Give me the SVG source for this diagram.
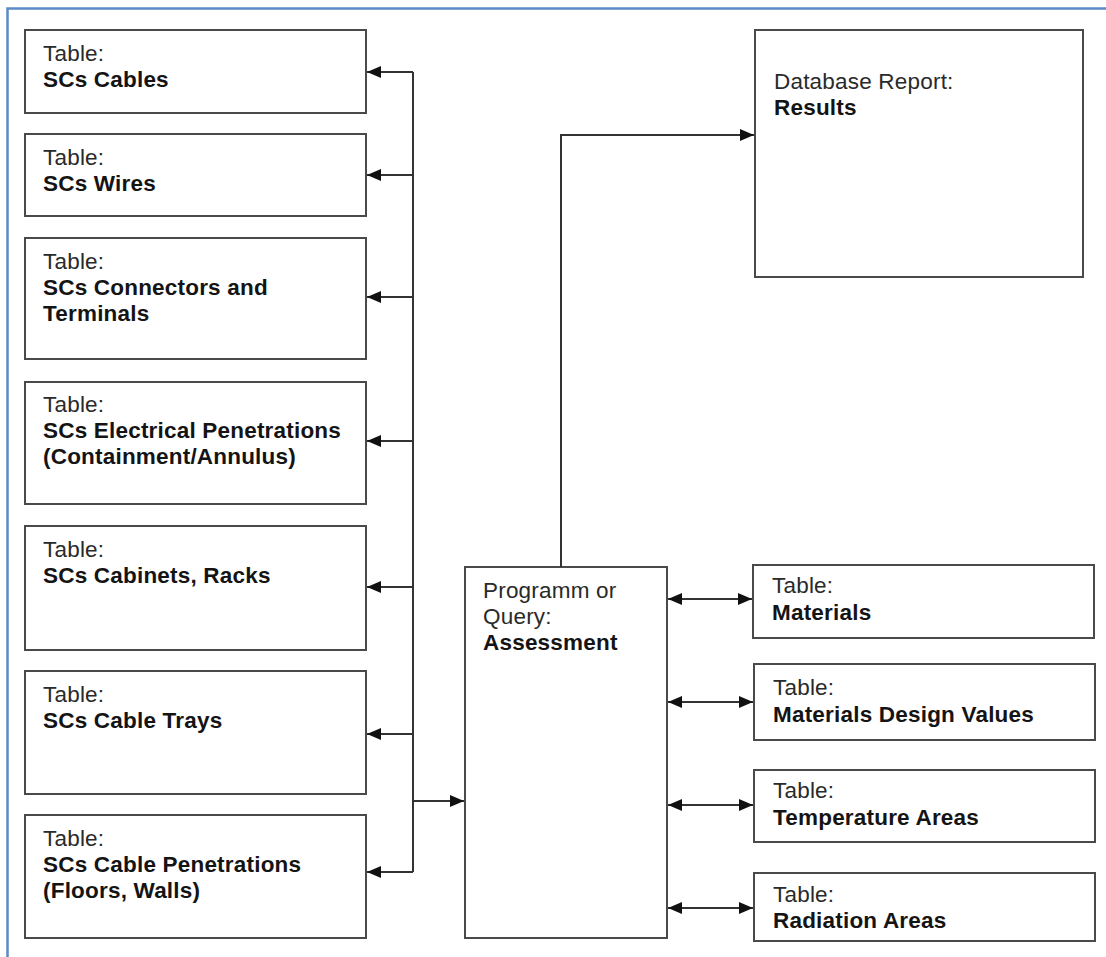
<svg xmlns="http://www.w3.org/2000/svg" width="1106" height="957" viewBox="0 0 1106 957">
  <style>
    .box { fill: #ffffff; stroke: #4a4a4a; stroke-width: 2; }
    .lbl { font-family: "Liberation Sans", Arial, sans-serif; font-size: 22.5px; letter-spacing: 0.2px; fill: #2a2a2a; }
    .lbl .b { font-weight: bold; fill: #141414; }
    .wire { fill: none; stroke: #333333; stroke-width: 2; }
    .frame { fill: none; stroke: #5b8ac6; stroke-width: 2.5; }
  </style>
  <defs>
    <marker id="arrow" viewBox="0 0 14 12" refX="14" refY="6" markerWidth="14" markerHeight="12" markerUnits="userSpaceOnUse" orient="auto-start-reverse">
      <path d="M0,0 L14,6 L0,12 Z" fill="#111111"/>
    </marker>
  </defs>

  <rect width="1106" height="957" fill="#ffffff"/>
  <!-- page frame: left and top edges -->
  <path class="frame" d="M7.5,957 V8.5 H1106"/>

  <!-- left column of tables -->
  <g id="scs-cables">
    <rect class="box" x="25" y="30" width="341" height="83"/>
    <text class="lbl"><tspan x="43" y="61">Table:</tspan><tspan class="b" x="43" y="87">SCs Cables</tspan></text>
  </g>
  <g id="scs-wires">
    <rect class="box" x="25" y="134" width="341" height="82"/>
    <text class="lbl"><tspan x="43" y="165">Table:</tspan><tspan class="b" x="43" y="191">SCs Wires</tspan></text>
  </g>
  <g id="scs-connectors">
    <rect class="box" x="25" y="238" width="341" height="121"/>
    <text class="lbl"><tspan x="43" y="269">Table:</tspan><tspan class="b" x="43" y="295">SCs Connectors and</tspan><tspan class="b" x="43" y="321">Terminals</tspan></text>
  </g>
  <g id="scs-electrical-penetrations">
    <rect class="box" x="25" y="382" width="341" height="122"/>
    <text class="lbl"><tspan x="43" y="412">Table:</tspan><tspan class="b" x="43" y="438">SCs Electrical Penetrations</tspan><tspan class="b" x="43" y="464">(Containment/Annulus)</tspan></text>
  </g>
  <g id="scs-cabinets">
    <rect class="box" x="25" y="526" width="341" height="124"/>
    <text class="lbl"><tspan x="43" y="557">Table:</tspan><tspan class="b" x="43" y="583">SCs Cabinets, Racks</tspan></text>
  </g>
  <g id="scs-cable-trays">
    <rect class="box" x="25" y="671" width="341" height="123"/>
    <text class="lbl"><tspan x="43" y="702">Table:</tspan><tspan class="b" x="43" y="728">SCs Cable Trays</tspan></text>
  </g>
  <g id="scs-cable-penetrations">
    <rect class="box" x="25" y="815" width="341" height="123"/>
    <text class="lbl"><tspan x="43" y="846">Table:</tspan><tspan class="b" x="43" y="872">SCs Cable Penetrations</tspan><tspan class="b" x="43" y="898">(Floors, Walls)</tspan></text>
  </g>

  <!-- central program -->
  <g id="assessment">
    <rect class="box" x="465" y="567" width="202" height="371"/>
    <text class="lbl"><tspan x="483" y="598">Programm or</tspan><tspan x="483" y="624">Query:</tspan><tspan class="b" x="483" y="650">Assessment</tspan></text>
  </g>

  <!-- report -->
  <g id="results">
    <rect class="box" x="755" y="30" width="328" height="247"/>
    <text class="lbl"><tspan x="774" y="89">Database Report:</tspan><tspan class="b" x="774" y="115">Results</tspan></text>
  </g>

  <!-- right column of tables -->
  <g id="materials">
    <rect class="box" x="753" y="565" width="341" height="73"/>
    <text class="lbl"><tspan x="772" y="593">Table:</tspan><tspan class="b" x="772" y="620">Materials</tspan></text>
  </g>
  <g id="materials-design-values">
    <rect class="box" x="754" y="664" width="341" height="76"/>
    <text class="lbl"><tspan x="773" y="695">Table:</tspan><tspan class="b" x="773" y="722">Materials Design Values</tspan></text>
  </g>
  <g id="temperature-areas">
    <rect class="box" x="754" y="770" width="341" height="72"/>
    <text class="lbl"><tspan x="773" y="798">Table:</tspan><tspan class="b" x="773" y="825">Temperature Areas</tspan></text>
  </g>
  <g id="radiation-areas">
    <rect class="box" x="754" y="873" width="341" height="68"/>
    <text class="lbl"><tspan x="773" y="902">Table:</tspan><tspan class="b" x="773" y="928">Radiation Areas</tspan></text>
  </g>

  <!-- connectors -->
  <g id="connectors">
    <!-- distribution bus to the left tables -->
    <path class="wire" d="M413,72 V872"/>
    <path class="wire" d="M413,72 H367" marker-end="url(#arrow)"/>
    <path class="wire" d="M413,175 H367" marker-end="url(#arrow)"/>
    <path class="wire" d="M413,297 H367" marker-end="url(#arrow)"/>
    <path class="wire" d="M413,441 H367" marker-end="url(#arrow)"/>
    <path class="wire" d="M413,587 H367" marker-end="url(#arrow)"/>
    <path class="wire" d="M413,734 H367" marker-end="url(#arrow)"/>
    <path class="wire" d="M413,872 H367" marker-end="url(#arrow)"/>
    <!-- bus into the program -->
    <path class="wire" d="M413,801 H464" marker-end="url(#arrow)"/>
    <!-- program to report -->
    <path class="wire" d="M561,567 V135 H754" marker-end="url(#arrow)"/>
    <!-- program to/from right tables -->
    <path class="wire" d="M668,599 H752" marker-start="url(#arrow)" marker-end="url(#arrow)"/>
    <path class="wire" d="M668,702 H753" marker-start="url(#arrow)" marker-end="url(#arrow)"/>
    <path class="wire" d="M668,805 H753" marker-start="url(#arrow)" marker-end="url(#arrow)"/>
    <path class="wire" d="M668,908 H753" marker-start="url(#arrow)" marker-end="url(#arrow)"/>
  </g>
</svg>
